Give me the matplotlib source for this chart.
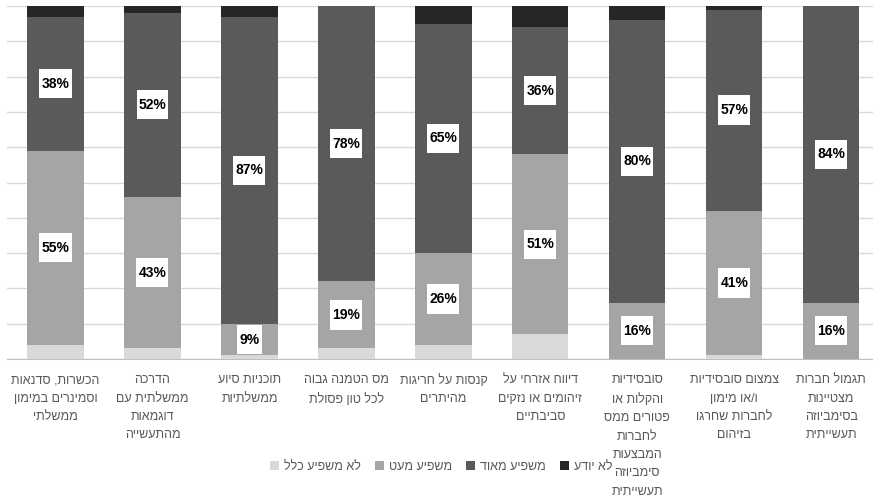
import matplotlib
matplotlib.use("Agg")
import matplotlib.pyplot as plt
from matplotlib.path import Path
import numpy as np

plt.rcParams['font.family'] = ['Liberation Sans', 'DejaVu Sans']

# categories, left to right as drawn
categories = [
    "הכשרות, סדנאות\nוסמינרים במימון\nממשלתי",
    "הדרכה\nממשלתית עם\nדוגמאות\nמהתעשייה",
    "תוכניות סיוע\nממשלתיות",
    "מס הטמנה גבוה\nלכל טון פסולת",
    "קנסות על חריגות\nמהיתרים",
    "דיווח אזרחי על\nזיהומים או נזקים\nסביבתיים",
    "סובסידיות\nוהקלות או\nפטורים ממס\nלחברות\nהמבצעות\nסימביוזה\nתעשייתית",
    "צמצום סובסידיות\nו/או מימון\nלחברות שחרגו\nבזיהום",
    "תגמול חברות\nמצטיינות\nבסימביוזה\nתעשייתית",
]

series_names = ["לא משפיע כלל", "משפיע מעט", "משפיע מאוד", "לא יודע"]
not_at_all = [4, 3, 1, 3, 4, 7, 0, 1, 0]
a_little = [55, 43, 9, 19, 26, 51, 16, 41, 16]
very_much = [38, 52, 87, 78, 65, 36, 80, 57, 84]
dont_know = [3, 2, 3, 0, 5, 6, 4, 1, 0]

colors = ["#d9d9d9", "#a5a5a5", "#5a5a5a", "#262626"]


def rtl(s):
    # matplotlib has no bidi support: flip each line for display
    return "\n".join(line[::-1] for line in s.split("\n"))


def label_box(x0, y0, width, height, mutation_size):
    # narrow sides, tall top/bottom like the excel data label boxes
    px = 0.15 * mutation_size
    py = 0.55 * mutation_size
    x0, y0 = x0 - px, y0 - py
    x1, y1 = x0 + width + 2 * px, y0 + height + 2 * py
    return Path([(x0, y0), (x1, y0), (x1, y1), (x0, y1), (x0, y0)], closed=True)


fig = plt.figure(figsize=(8.73, 4.97), dpi=100)
ax = fig.add_axes([7 / 873, 138 / 497, 866 / 873, 353 / 497])

x = np.arange(len(categories))
bottom = np.zeros(len(categories))
all_series = [not_at_all, a_little, very_much, dont_know]
containers = []
for name, vals, col in zip(series_names, all_series, colors):
    bars = ax.bar(x, vals, 0.58, bottom=bottom, color=col, label=rtl(name), zorder=3)
    containers.append(bars)
    bottom += np.array(vals)

for bars, vals in zip(containers[1:3], all_series[1:3]):
    ax.bar_label(bars, labels=[f"{v}%" for v in vals], label_type='center',
                 fontsize=10, fontweight='bold', color='black', zorder=5,
                 bbox=dict(boxstyle=label_box, facecolor='white', edgecolor='none'))

ax.set_xlim(-0.5, 8.43)
ax.set_ylim(0, 100)
ax.set_yticks(np.arange(0, 101, 10))
ax.set_yticklabels([])
ax.yaxis.grid(True, color='#d9d9d9', linewidth=1, zorder=0)
ax.tick_params(axis='y', length=0)
ax.tick_params(axis='x', length=0, pad=11)
ax.set_xticks(x)
ax.set_xticklabels([rtl(c) for c in categories], fontsize=9, color='#595959',
                   linespacing=1.7, multialignment='center')
for side in ['top', 'right', 'left']:
    ax.spines[side].set_visible(False)
ax.spines['bottom'].set_color('#bfbfbf')

fig.legend(loc='center', bbox_to_anchor=(441 / 873, 1 - 467 / 497), ncol=4,
           frameon=False, fontsize=9, labelcolor='#595959',
           handlelength=0.7, handleheight=0.7, handletextpad=0.4, columnspacing=1.15)

fig.savefig("out.png", dpi=100)
